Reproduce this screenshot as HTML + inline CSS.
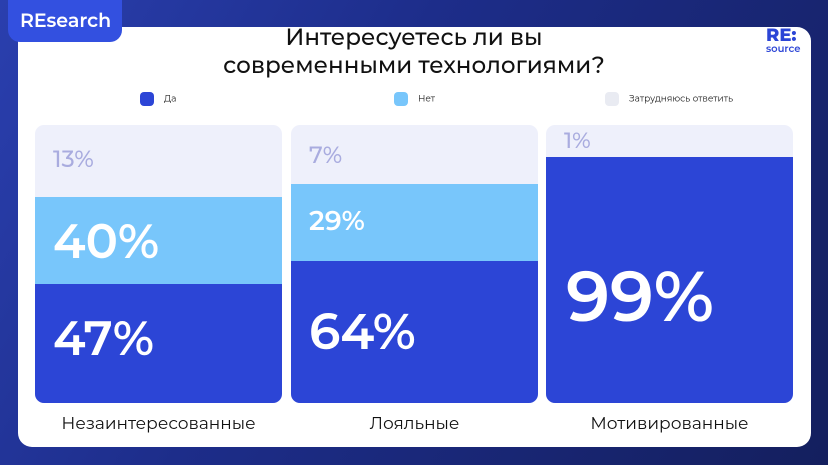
<!DOCTYPE html><html><head><meta charset="utf-8"><style>
body{margin:0;width:828px;height:465px;overflow:hidden;background:linear-gradient(120deg,#2a3fae 0%,#1d2d8a 40%,#141f5e 100%);font-family:"Montserrat","Liberation Sans","DejaVu Sans",sans-serif;position:relative}
.card{position:absolute;left:18px;top:27px;width:793px;height:420px;background:#fff;border-radius:14px}
.badge{position:absolute;left:8px;top:0;width:114px;height:42px;background:#3350e0;border-radius:0 0 12px 12px;color:#fff;font-size:19px;font-weight:600;line-height:42px;text-indent:12px}
.title{position:absolute;left:0;width:828px;top:23px;text-align:center;font-size:23px;font-weight:500;color:#111;line-height:28px}
.logo{position:absolute;left:766px;top:26px;color:#2c45d6;font-weight:800;font-size:18px;line-height:18px}
.logo small{display:block;font-size:10px;font-weight:600;line-height:10px}
.leg{position:absolute;top:92px;font-size:9px;color:#222;line-height:14px}
.leg i{display:inline-block;width:14px;height:14px;border-radius:4px;vertical-align:middle;margin-right:10px}
.col{position:absolute;top:125px;width:247px;height:278px;border-radius:9px;overflow:hidden;background:#eef0fb}
.s{position:absolute;left:0;width:100%;color:#fff;font-weight:600}
.s span{position:absolute;left:18px}
.lab{position:absolute;top:414px;width:247px;text-align:center;font-size:17px;color:#111}
</style></head><body>
<div class="card"></div>
<div class="badge">REsearch</div>
<div class="title">Интересуетесь ли вы<br>современными технологиями?</div>
<div class="logo">RE:<small>source</small></div>
<div class="leg" style="left:140px"><i style="background:#2c45d6"></i>Да</div>
<div class="leg" style="left:394px"><i style="background:#78c6fb"></i>Нет</div>
<div class="leg" style="left:605px"><i style="background:#e9ebf2"></i>Затрудняюсь ответить</div>

<div class="col" style="left:35px">
<div class="s" style="top:0;height:72px;color:#a9acdf;font-weight:500"><span style="top:20px;font-size:23px">13%</span></div>
<div class="s" style="top:72px;height:87px;background:#78c6fb"><span style="top:16px;font-size:48px">40%</span></div>
<div class="s" style="top:159px;height:119px;background:#2c45d6"><span style="top:26px;font-size:48px">47%</span></div>
</div>
<div class="col" style="left:291px">
<div class="s" style="top:0;height:59px;color:#a9acdf;font-weight:500"><span style="top:16px;font-size:23px">7%</span></div>
<div class="s" style="top:59px;height:77px;background:#78c6fb"><span style="top:20px;font-size:27px">29%</span></div>
<div class="s" style="top:136px;height:142px;background:#2c45d6"><span style="top:40px;font-size:50px">64%</span></div>
</div>
<div class="col" style="left:546px">
<div class="s" style="top:0;height:32px;color:#a9acdf;font-weight:500"><span style="top:2px;font-size:22px">1%</span></div>
<div class="s" style="top:32px;height:246px;background:#2c45d6"><span style="top:96px;font-size:70px;left:20px">99%</span></div>
</div>
<div class="lab" style="left:35px">Незаинтересованные</div>
<div class="lab" style="left:291px">Лояльные</div>
<div class="lab" style="left:546px">Мотивированные</div>
</body></html>
